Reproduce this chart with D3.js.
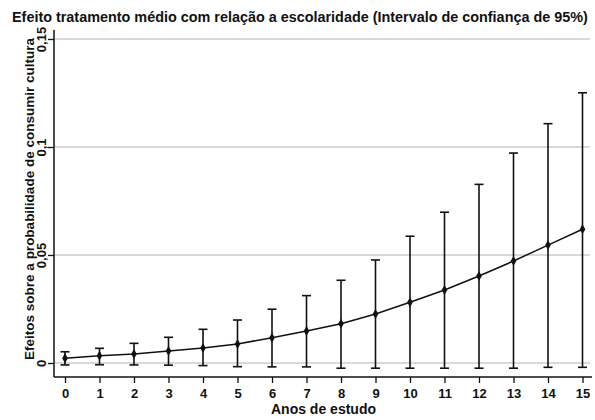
<!DOCTYPE html>
<html>
<head>
<meta charset="utf-8">
<script src="https://cdn.jsdelivr.net/npm/d3@7"></script>
<style>
  html, body { margin: 0; padding: 0; background: #fff; }
  svg { display: block; font-family: "Liberation Sans", Arial, sans-serif; font-weight: bold; }
</style>
</head>
<body>
<svg id="chart" width="595" height="420"></svg>
<script>
// Years of schooling
const years = [0, 1, 2, 3, 4, 5, 6, 7, 8, 9, 10, 11, 12, 13, 14, 15];
// Average treatment effect and 95% confidence bounds
const effect = [0.0022, 0.0034, 0.0042, 0.0056, 0.0069, 0.0088, 0.0117, 0.0148, 0.0182, 0.0227, 0.0281, 0.0338, 0.0403, 0.0472, 0.0546, 0.0619];
const upper  = [0.0052, 0.0068, 0.0091, 0.0119, 0.0156, 0.0199, 0.0249, 0.0312, 0.0383, 0.0477, 0.0587, 0.0698, 0.0827, 0.0972, 0.1108, 0.1251];
const lower  = [-0.0009, -0.0008, -0.0009, -0.0010, -0.0012, -0.0017, -0.0018, -0.0018, -0.0024, -0.0024, -0.0024, -0.0024, -0.0024, -0.0024, -0.0020, -0.0020];
const yTicks = [0, 0.05, 0.1, 0.15];
const yTickLabels = ["0", "0,05", "0,1", "0,15"];

(function draw() {
  const svg = d3.select("#chart");
  const x = d3.scaleLinear().domain([0, 15]).range([65, 582.5]);
  const y = d3.scaleLinear().domain([0, 0.15]).range([363, 39]);

  const plotLeft = 54, plotRight = 592, plotTop = 30, plotBottom = 377;
  const ink = "#111";

  // grid lines
  svg.append("g").selectAll("line").data(yTicks).join("line")
    .attr("x1", plotLeft).attr("x2", plotRight - 2)
    .attr("y1", d => y(d)).attr("y2", d => y(d))
    .attr("stroke", "#b4b4b4").attr("stroke-width", 1.2);

  // y axis
  const yAxis = svg.append("g").attr("transform", `translate(${plotLeft},0)`)
    .call(d3.axisLeft(y).tickValues(yTicks).tickSize(6).tickFormat((d, i) => yTickLabels[i]));
  yAxis.select(".domain").remove();
  yAxis.selectAll(".tick line").attr("stroke", ink).attr("stroke-width", 1.3);
  yAxis.selectAll(".tick text")
    .attr("x", 0).attr("y", 0).attr("dy", null)
    .attr("transform", "translate(-8.5,0) rotate(-90)")
    .attr("text-anchor", "middle")
    .style("font-size", "13px").attr("fill", ink);
  svg.append("line").attr("x1", plotLeft).attr("x2", plotLeft).attr("y1", plotTop).attr("y2", plotBottom)
    .attr("stroke", ink).attr("stroke-width", 1.5);

  // x axis
  const xAxis = svg.append("g").attr("transform", `translate(0,${plotBottom})`)
    .call(d3.axisBottom(x).tickValues(years).tickSize(6).tickFormat(d3.format("d")));
  xAxis.select(".domain").remove();
  xAxis.selectAll(".tick line").attr("stroke", ink).attr("stroke-width", 1.3);
  xAxis.selectAll(".tick text").attr("y", 21).attr("dy", null)
    .style("font-size", "13px").attr("fill", ink);
  svg.append("line").attr("x1", plotLeft).attr("x2", plotRight).attr("y1", plotBottom).attr("y2", plotBottom)
    .attr("stroke", ink).attr("stroke-width", 1.5);

  // confidence intervals
  const ci = svg.append("g").attr("stroke", ink).attr("stroke-width", 1.6);
  years.forEach((yr, i) => {
    const cx = x(yr);
    ci.append("line").attr("x1", cx).attr("x2", cx).attr("y1", y(lower[i])).attr("y2", y(upper[i]));
    ci.append("line").attr("x1", cx - 4.5).attr("x2", cx + 4.5).attr("y1", y(upper[i])).attr("y2", y(upper[i]));
    ci.append("line").attr("x1", cx - 4.5).attr("x2", cx + 4.5).attr("y1", y(lower[i])).attr("y2", y(lower[i]));
  });

  // point estimates
  const line = d3.line().x((d, i) => x(years[i])).y(d => y(d));
  svg.append("path").datum(effect).attr("d", line)
    .attr("fill", "none").attr("stroke", ink).attr("stroke-width", 1.5);
  svg.append("g").selectAll("path").data(effect).join("path")
    .attr("transform", (d, i) => `translate(${x(years[i])},${y(d)})`)
    .attr("d", d3.symbol().type(d3.symbolDiamond).size(28))
    .attr("fill", ink);

  // titles
  svg.append("text").attr("x", 12).attr("y", 21.5)
    .style("font-size", "14.4px").attr("fill", ink)
    .text("Efeito tratamento médio com relação a escolaridade (Intervalo de confiança de 95%)");
  svg.append("text").attr("x", 323.5).attr("y", 414)
    .attr("text-anchor", "middle").style("font-size", "14px").attr("fill", ink)
    .text("Anos de estudo");
  svg.append("text").attr("transform", "translate(33.5,199) rotate(-90)")
    .attr("text-anchor", "middle").style("font-size", "13.5px").attr("fill", ink)
    .text("Efeitos sobre a probabilidade de consumir cultura");
})();
</script>
</body>
</html>
